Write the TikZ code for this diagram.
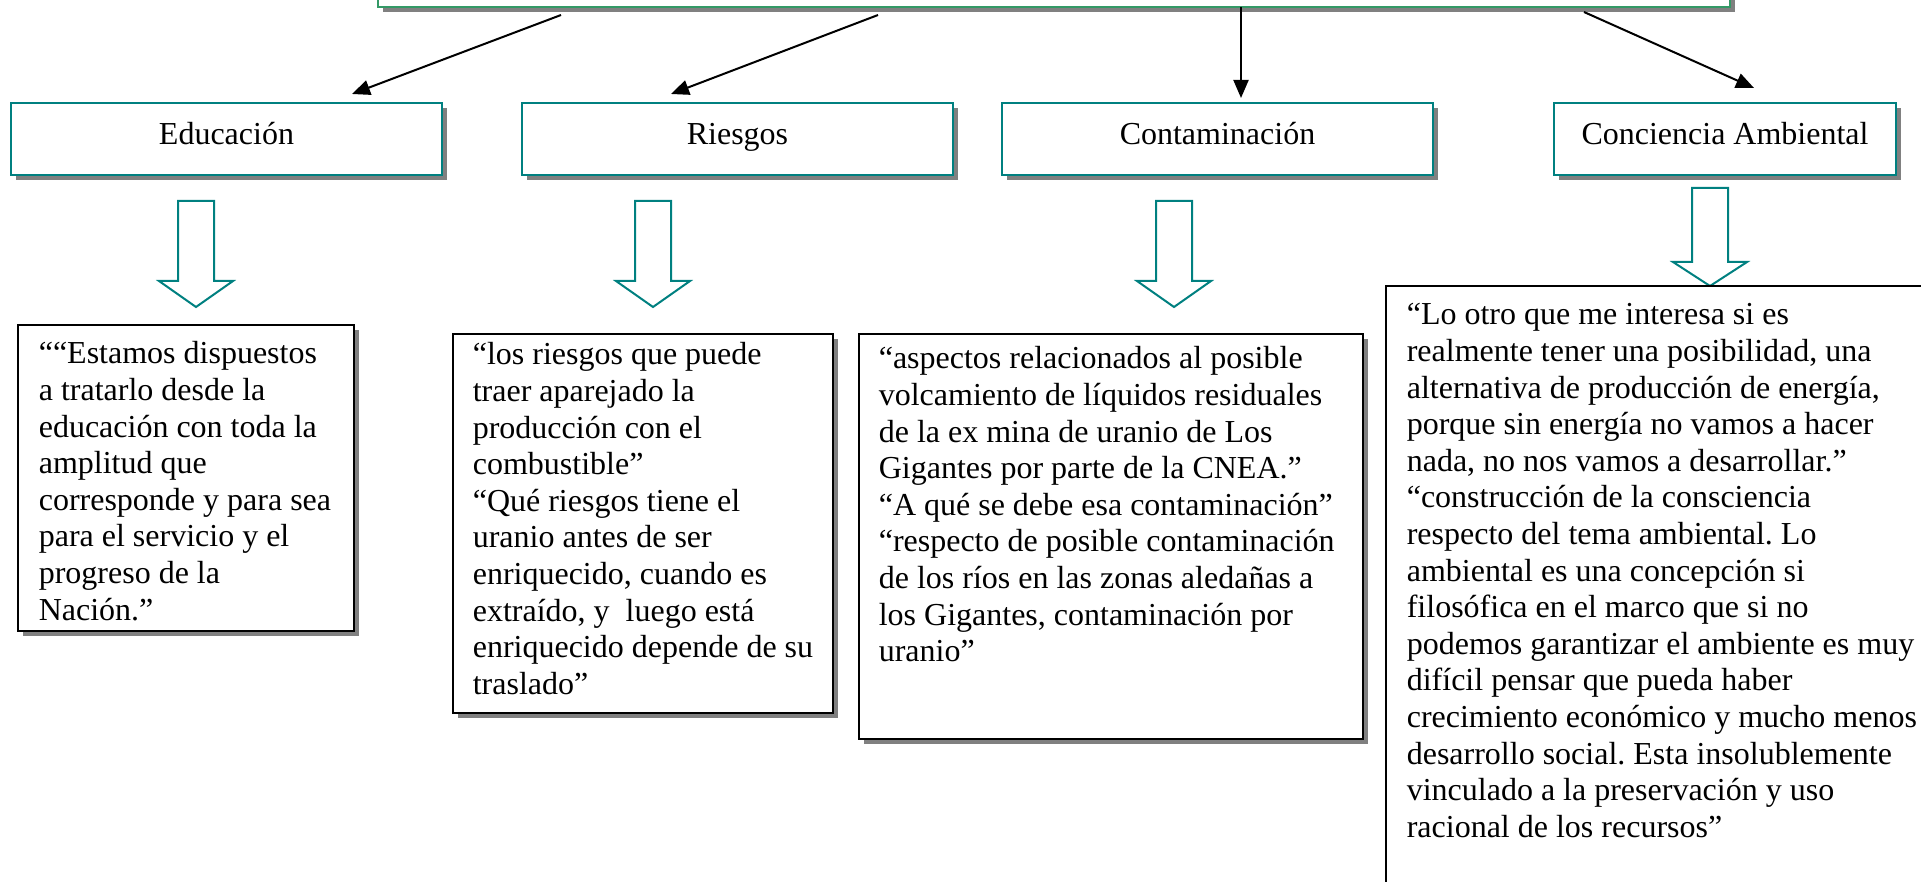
\documentclass[tikz,border=0pt]{standalone}
\usepackage{fontspec}
\setmainfont{Liberation Serif}
\usetikzlibrary{arrows.meta,shadows}
\definecolor{boxteal}{RGB}{0,128,128}
\definecolor{topgreen}{RGB}{51,153,102}
\definecolor{shadowgray}{RGB}{128,128,128}
\newcommand{\quotesize}{\fontsize{32pt}{36.6pt}\selectfont\frenchspacing}
\newcommand{\quotelines}[2]{\makebox[#1][l]{\begin{tabular}[t]{@{}l@{}}#2\end{tabular}}}

\begin{document}
\begin{tikzpicture}[x=1pt, y=-1pt,
    boxshadow/.style = {drop shadow={shadow xshift=5pt, shadow yshift=-5pt,
        fill=shadowgray, opacity=1}},
    topic/.style = {draw=boxteal, line width=2pt, fill=white, boxshadow,
        anchor=north west, minimum width=431pt, inner sep=0pt,
        text height=42pt, text depth=30pt, font=\quotesize},
    quote/.style = {draw=black, line width=1.6pt, fill=white, boxshadow,
        anchor=north west, inner xsep=20pt, inner ysep=0pt, font=\quotesize},
    link/.style = {line width=2pt, -{Triangle[length=18pt, width=15pt]}},
    hollow/.style = {draw=boxteal, line width=2pt}]
  \useasboundingbox (0,0) rectangle (1921,882);
  \clip (0,0) rectangle (1921,882);

  \node[draw=topgreen, line width=2pt, fill=white, boxshadow, anchor=north west,
    minimum width=1352pt, minimum height=80pt, inner sep=0pt] (main) at (377,-74) {};

  \node[topic] (edu) at (10,102) {Educación};
  \node[topic] (riesgos) at (521,102) {Riesgos};
  \node[topic] (contam) at (1001,102) {Contaminación};
  \node[topic, minimum width=342pt] (conciencia) at (1553,102) {Conciencia Ambiental};

  \coordinate (from1) at (561,15);
  \coordinate (to1) at (352,94);
  \coordinate (from2) at (878,15);
  \coordinate (to2) at (671,94);
  \coordinate (from3) at (1241,7);
  \coordinate (to3) at (1241,98);
  \coordinate (from4) at (1584,12);
  \coordinate (to4) at (1754,88);
  \draw[link] (from1) -- (to1);
  \draw[link] (from2) -- (to2);
  \draw[link] (from3) -- (to3);
  \draw[link] (from4) -- (to4);

  \draw[hollow] (178,201) -- (214,201) -- (214,281) -- (233,281) -- (196,307)
    -- (159,281) -- (178,281) -- cycle;
  \draw[hollow] (635,201) -- (671,201) -- (671,281) -- (690,281) -- (653,307)
    -- (616,281) -- (635,281) -- cycle;
  \draw[hollow] (1156,201) -- (1192,201) -- (1192,281) -- (1211,281) -- (1174,307)
    -- (1137,281) -- (1156,281) -- cycle;
  \draw[hollow] (1692,188) -- (1728,188) -- (1728,262) -- (1747,262) -- (1710,286)
    -- (1673,262) -- (1692,262) -- cycle;

  \node[quote, inner xsep=21pt, text height=39pt, text depth=267pt] (eduq) at (17,324)
    {\quotelines{294pt}{““Estamos dispuestos\\
     a tratarlo desde la\\
     educación con toda la\\
     amplitud que\\
     corresponde y para sea\\
     para el servicio y el\\
     progreso de la\\
     Nación.”}};
  \node[quote, text height=31pt, text depth=348pt] (riesgosq) at (452,333)
    {\quotelines{340pt}{“los riesgos que puede\\
     traer aparejado la\\
     producción con el\\
     combustible”\\
     “Qué riesgos tiene el\\
     uranio antes de ser\\
     enriquecido, cuando es\\
     extraído, y~ luego está\\
     enriquecido depende de su\\
     traslado”}};
  \node[quote, text height=35pt, text depth=370pt] (contamq) at (858,333)
    {\quotelines{464pt}{“aspectos relacionados al posible\\
     volcamiento de líquidos residuales\\
     de la ex mina de uranio de Los\\
     Gigantes por parte de la CNEA.”\\
     “A qué se debe esa contaminación”\\
     “respecto de posible contaminación\\
     de los ríos en las zonas aledañas a\\
     los Gigantes, contaminación por\\
     uranio”}};
  \node[quote, inner xsep=21pt, text height=39pt, text depth=650pt] (concienciaq) at (1385,285)
    {\quotelines{560pt}{“Lo otro que me interesa si es\\
     realmente tener una posibilidad, una\\
     alternativa de producción de energía,\\
     porque sin energía no vamos a hacer\\
     nada, no nos vamos a desarrollar.”\\
     “construcción de la consciencia\\
     respecto del tema ambiental. Lo\\
     ambiental es una concepción si\\
     filosófica en el marco que si no\\
     podemos garantizar el ambiente es muy\\
     difícil pensar que pueda haber\\
     crecimiento económico y mucho menos\\
     desarrollo social. Esta insolublemente\\
     vinculado a la preservación y uso\\
     racional de los recursos”}};
\end{tikzpicture}
\end{document}
